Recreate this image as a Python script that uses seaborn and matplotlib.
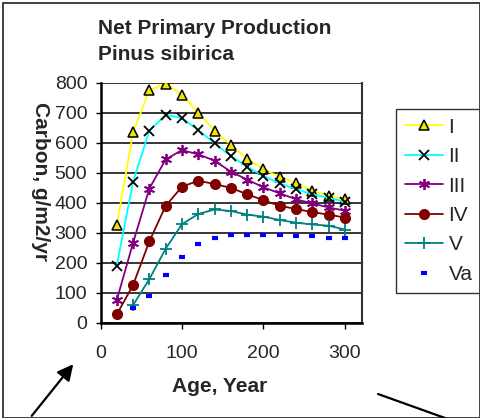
import numpy as np
import pandas as pd
import matplotlib
matplotlib.use("Agg")
import matplotlib.pyplot as plt
import seaborn as sns

# Stand age (years) and net primary production (carbon, g/m2/yr) by site class
age = [20, 40, 60, 80, 100, 120, 140, 160, 180, 200, 220, 240, 260, 280, 300]
age_low = age[1:]
npp_I = [325, 635, 775, 797, 760, 700, 640, 592, 546, 512, 485, 465, 440, 423, 411]
npp_II = [190, 470, 640, 693, 682, 642, 598, 555, 520, 489, 464, 445, 428, 416, 403]
npp_III = [75, 266, 447, 544, 575, 561, 540, 503, 477, 451, 431, 411, 397, 384, 373]
npp_IV = [27, 125, 271, 389, 453, 473, 462, 449, 428, 408, 389, 379, 368, 360, 350]
npp_V = [58, 145, 246, 328, 362, 377, 372, 360, 353, 342, 333, 327, 323, 310]
npp_Va = [47, 90, 159, 218, 263, 281, 293, 293, 293, 293, 287, 287, 281, 281]

series_names = ["I", "II", "III", "IV", "V", "Va"]
y_ticks = [0, 100, 200, 300, 400, 500, 600, 700, 800]
x_ticks = [0, 100, 200, 300]

frames = []
for name, xs, ys in [("I", age, npp_I), ("II", age, npp_II), ("III", age, npp_III),
                     ("IV", age, npp_IV), ("V", age_low, npp_V), ("Va", age_low, npp_Va)]:
    frames.append(pd.DataFrame({"age": xs, "npp": ys, "cls": name}))
df = pd.concat(frames, ignore_index=True)

sns.set_style("white")
plt.rcParams["font.family"] = ["Liberation Sans", "DejaVu Sans"]

W, H = 481, 418
fig = plt.figure(figsize=(W / 100, H / 100), dpi=100)
fig.patch.set_facecolor("white")

left, right, top, bottom = 100.5, 362, 82.7, 322.5
ax = fig.add_axes([left / W, (H - bottom) / H, (right - left) / W, (bottom - top) / H])
ax.set_facecolor("white")

styles = {
    "I":   dict(color="#FFFF00", marker="^", markersize=7.5, markerfacecolor="#F0E400",
                markeredgecolor="black", markeredgewidth=1.1, linewidth=1.3),
    "II":  dict(color="#00FFFF", marker="x", markersize=7, markerfacecolor="black",
                markeredgecolor="black", markeredgewidth=1.3, linewidth=1.3),
    "III": dict(color="#800080", marker=(6, 2, 0), markersize=8, markerfacecolor="#800080",
                markeredgecolor="#800080", markeredgewidth=1.3, linewidth=1.3),
    "IV":  dict(color="#800000", marker="o", markersize=7, markerfacecolor="#800000",
                markeredgecolor="#800000", markeredgewidth=1, linewidth=1.3),
    "V":   dict(color="#008080", marker="+", markersize=8, markerfacecolor="#008080",
                markeredgecolor="#008080", markeredgewidth=1.3, linewidth=1.3),
    "Va":  dict(color="#0000FF", marker="_", markersize=5, markerfacecolor="#0000FF",
                markeredgecolor="#0000FF", markeredgewidth=3, linewidth=0, linestyle="none"),
}

ax.set_axisbelow(True)
for name in series_names:
    sub = df[df["cls"] == name]
    sns.lineplot(data=sub, x="age", y="npp", ax=ax, label=name, estimator=None,
                 sort=False, **styles[name])

ax.set_xlim(0, 321)
ax.set_ylim(0, 800)
ax.set_xticks(x_ticks)
ax.set_yticks(y_ticks)
ax.set_xticklabels([str(t) for t in x_ticks])
ax.set_yticklabels([str(t) for t in y_ticks])
ax.set_xlabel("")
ax.set_ylabel("")

ax.yaxis.grid(True, color="black", linewidth=1.1)
ax.xaxis.grid(False)
for side in ["left", "bottom"]:
    ax.spines[side].set_color("black")
    ax.spines[side].set_linewidth(1.8)
ax.spines["right"].set_color("#333333")
ax.spines["right"].set_linewidth(1.5)
ax.spines["top"].set_visible(False)

ax.tick_params(axis="y", direction="out", length=3.5, width=1, color="black",
               labelsize=14, pad=6, left=True)
ax.tick_params(axis="x", direction="out", length=4.5, width=1, color="black",
               labelsize=14, pad=12, bottom=True)

# legend box to the right of the plot
leg = ax.legend(loc="upper left", bbox_to_anchor=(396 / W, (H - 109) / H),
                bbox_transform=fig.transFigure, frameon=True, fancybox=False,
                fontsize=15, handlelength=1.85, handletextpad=0.25,
                labelspacing=0.5, borderpad=0.42, borderaxespad=0)
leg.get_frame().set_edgecolor("black")
leg.get_frame().set_linewidth(1.0)

# titles and axis labels
fig.text(98 / W, (H - 29) / H, "Net Primary Production", fontsize=15, fontweight="bold",
         ha="left", va="center")
fig.text(98 / W, (H - 55) / H, "Pinus sibirica", fontsize=15, fontweight="bold",
         ha="left", va="center")
fig.text(220 / W, (H - 387) / H, "Age, Year", fontsize=15, fontweight="bold",
         ha="center", va="center")
fig.text(40 / W, (H - 182) / H, "Carbon, g/m2/yr", fontsize=15, fontweight="bold",
         ha="center", va="center", rotation=270)

# pointer lines below the chart
fig.add_artist(matplotlib.patches.FancyArrowPatch(
    (30, 0), (75, 56), transform=None, arrowstyle="-|>", mutation_scale=24,
    linewidth=1.6, color="black"))
fig.add_artist(matplotlib.lines.Line2D([378, 445], [H - 394, 0], transform=None,
                                       color="black", linewidth=1.6))

# outer frame
fig.add_artist(matplotlib.patches.Rectangle((2.5, 0.5), W - 4, H - 3, transform=None,
                                            fill=False, edgecolor="#404040", linewidth=1.4))

fig.savefig("out.png", dpi=100, facecolor="white")
